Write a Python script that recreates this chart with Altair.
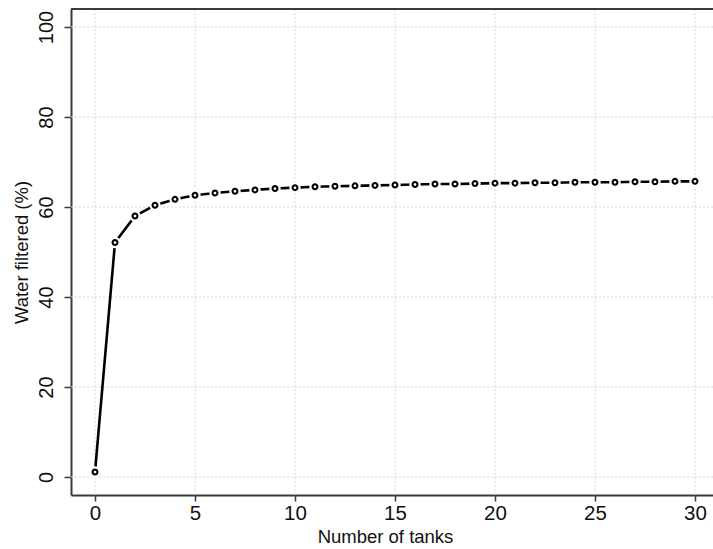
import altair as alt
import pandas as pd

# Share of water filtered as the number of tanks grows
tanks = list(range(0, 31))
filtered = [1.1, 52.1, 58.0, 60.4, 61.7, 62.6, 63.1, 63.5, 63.8, 64.1, 64.3,
            64.5, 64.6, 64.7, 64.8, 64.9, 65.0, 65.1, 65.1, 65.2, 65.3,
            65.3, 65.4, 65.4, 65.5, 65.5, 65.5, 65.6, 65.6, 65.7, 65.7]
x_ticks = [0, 5, 10, 15, 20, 25, 30]
y_ticks = [0, 20, 40, 60, 80, 100]

df = pd.DataFrame({"tanks": tanks, "filtered": filtered})
xg = pd.DataFrame({"tanks": x_ticks})
yg = pd.DataFrame({"filtered": y_ticks})

FONT = "Liberation Sans"
AXIS_COLOR = "#3a3a3a"
GRID = dict(color="#d4d4d4", strokeWidth=1, strokeDash=[2, 2])

x_scale = alt.Scale(domain=[-1.2, 30.9], nice=False, zero=False)
y_scale = alt.Scale(domain=[-4, 104], nice=False, zero=False)

x_axis = alt.Axis(
    title="Number of tanks", values=x_ticks, format="d", grid=False,
    domainColor=AXIS_COLOR, domainWidth=2,
    tickColor=AXIS_COLOR, tickSize=6, tickWidth=1.5,
    labelFont=FONT, labelFontSize=20.5, labelColor="#111",
    labelPadding=2, titleFont=FONT, titleFontSize=18.5,
    titleFontWeight="normal", titleColor="#111", titlePadding=4,
    titleAnchor="middle", titleX=314,
)
y_axis = alt.Axis(
    title="Water filtered (%)", values=y_ticks, format="d", grid=False,
    domainColor=AXIS_COLOR, domainWidth=2,
    tickColor=AXIS_COLOR, tickSize=7, tickWidth=1.5,
    labelAngle=270, labelAlign="center", labelBaseline="bottom",
    labelFont=FONT, labelFontSize=20, labelColor="#111",
    labelPadding=8, titleFont=FONT, titleFontSize=18.5,
    titleFontWeight="normal", titleColor="#111", titlePadding=5,
)

x_enc = alt.X("tanks:Q", scale=x_scale, axis=x_axis)
y_enc = alt.Y("filtered:Q", scale=y_scale, axis=y_axis)

# dotted reference grid at the major ticks
vgrid = alt.Chart(xg).mark_rule(**GRID).encode(x=x_enc)
hgrid = alt.Chart(yg).mark_rule(**GRID).encode(y=y_enc)

base = alt.Chart(df).encode(x=x_enc, y=y_enc)

line = base.mark_line(color="black", strokeWidth=2.6)
halo = base.mark_point(shape="circle", filled=True, color="white",
                       opacity=1, size=130)
dots = base.mark_point(shape="circle", filled=False, color="black",
                       fill="white", fillOpacity=1, strokeWidth=2.1,
                       opacity=1, size=24)

top_border = alt.Chart(df).mark_rule(color=AXIS_COLOR, strokeWidth=2).encode(
    x=alt.value(0), x2=alt.value(642), y=alt.value(0)
)

chart = (
    alt.layer(vgrid, hgrid, line, halo, dots, top_border)
    .properties(width=642, height=486,
                autosize=alt.AutoSizeParams(type="none"),
                padding={"left": 71, "top": 9, "right": 0, "bottom": 54},
                background="white")
    .configure_view(stroke=None)
)

chart.save("out.html", embed_options={"renderer": "svg", "actions": False})
